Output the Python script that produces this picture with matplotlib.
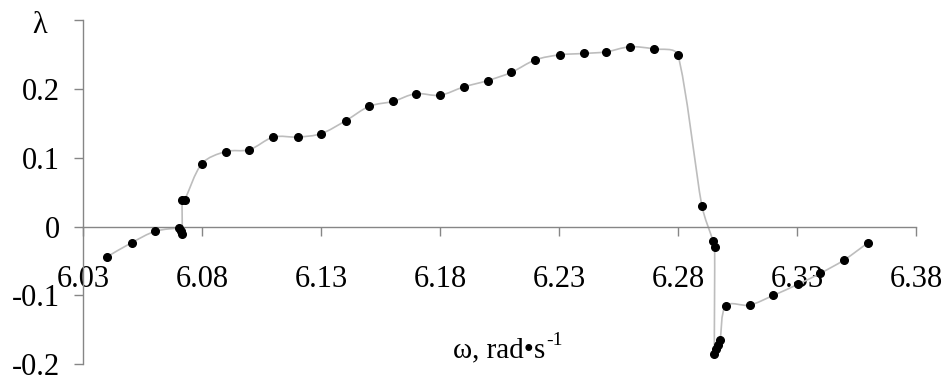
import numpy as np
import matplotlib
matplotlib.use("Agg")
import matplotlib.pyplot as plt
from matplotlib.path import Path
from matplotlib.patches import PathPatch

# frequency (rad/s) and exponent lambda, in measurement order
omega = [6.0402, 6.0505, 6.0604, 6.0705, 6.0712, 6.0717, 6.0717, 6.0728,
         6.0799, 6.0900, 6.0999, 6.1100, 6.1202, 6.1301, 6.1404, 6.1503,
         6.1604, 6.1698, 6.1799, 6.1900, 6.2000, 6.2100, 6.2200, 6.2303,
         6.2404, 6.2497, 6.2597, 6.2698, 6.2799, 6.2900, 6.2947, 6.2954,
         6.2953, 6.2960, 6.2967, 6.2977, 6.3000, 6.3101, 6.3200, 6.3303,
         6.3397, 6.3498, 6.3599]
lam = [-0.0437, -0.0233, -0.0068, -0.0024, -0.0065, -0.0105, 0.0379, 0.0393,
       0.0912, 0.1090, 0.1116, 0.1300, 0.1300, 0.1350, 0.1538, 0.1747,
       0.1820, 0.1930, 0.1907, 0.2028, 0.2120, 0.2240, 0.2420, 0.2494,
       0.2514, 0.2537, 0.2610, 0.2580, 0.2494, 0.0306, -0.0204, -0.0300,
       -0.1853, -0.1780, -0.1715, -0.1650, -0.1155, -0.1140, -0.1000, -0.0840,
       -0.0680, -0.0485, -0.0233]

x_ticks = [6.03, 6.08, 6.13, 6.18, 6.23, 6.28, 6.33, 6.38]
x_labels = ["6.03", "6.08", "6.13", "6.18", "6.23", "6.28", "6.33", "6.38"]
y_ticks = [-0.2, -0.1, 0.0, 0.1, 0.2, 0.3]
y_labels = ["-0.2", "-0.1", "0", "0.1", "0.2", ""]

AXIS_GREY = "#868686"
LINE_GREY = "#bdbdbd"
FONT = "Liberation Serif"


def smooth_path(xs, ys, sx, sy):
    """Cubic Bezier path through the points.

    Tangents are Catmull-Rom, with each control arm capped at a third of
    its segment (measured in the scaled sx/sy space) to keep overshoot small.
    """
    scale = np.array([sx, sy])
    p = np.column_stack([xs, ys]) * scale
    n = len(p)
    verts = [p[0]]
    codes = [Path.MOVETO]

    def arm(vec, seg_len):
        length = np.hypot(*vec)
        cap = seg_len / 3.0
        if length > cap and length > 0:
            vec = vec * cap / length
        return vec

    for i in range(n - 1):
        p0 = p[i - 1] if i > 0 else p[i]
        p3 = p[i + 2] if i + 2 < n else p[i + 1]
        seg = np.hypot(*(p[i + 1] - p[i]))
        c1 = p[i] + arm((p[i + 1] - p0) / 6.0, seg)
        c2 = p[i + 1] - arm((p3 - p[i]) / 6.0, seg)
        verts += [c1, c2, p[i + 1]]
        codes += [Path.CURVE4] * 3
    return Path(np.array(verts) / scale, codes)


plt.rcParams["font.family"] = FONT

fig = plt.figure(figsize=(9.46, 3.81), dpi=100)
ax = fig.add_axes([83 / 946, 1 - 364.3 / 381, (916 - 83) / 946, (364.3 - 20) / 381])

ax.set_xlim(6.03, 6.38)
ax.set_ylim(-0.2, 0.3)

# pixels per data unit, so the smoothing works in screen proportions
px_x = (916 - 83) / (6.38 - 6.03)
px_y = (364.3 - 20) / (0.3 + 0.2)
ax.add_patch(PathPatch(smooth_path(omega, lam, px_x, px_y), facecolor="none",
                       edgecolor=LINE_GREY, lw=1.2, zorder=2))
ax.plot(omega, lam, ls="none", marker="o", ms=5.5, color="black", zorder=3)

for side in ("top", "right"):
    ax.spines[side].set_visible(False)
ax.spines["bottom"].set_position(("data", 0))
for side in ("left", "bottom"):
    ax.spines[side].set_color(AXIS_GREY)
    ax.spines[side].set_linewidth(1.0)

ax.set_xticks(x_ticks)
ax.set_xticklabels(x_labels)
ax.set_yticks(y_ticks)
ax.set_yticklabels(y_labels)
ax.tick_params(axis="x", direction="out", length=6.5, width=1.0,
               color=AXIS_GREY, pad=21, labelsize=22)
ax.tick_params(axis="y", direction="out", length=6.5, width=1.0,
               color=AXIS_GREY, pad=10, labelsize=22)

# axis titles
fig.text(32 / 946, 1 - 33 / 381, "λ", fontsize=22, ha="left", va="baseline")
xlab = fig.text(453 / 946, 1 - 357 / 381, "ω, rad•s", fontsize=21,
                ha="left", va="baseline")
fig.canvas.draw()
bb = xlab.get_window_extent()
fig.text(bb.x1 / 946 + 0.001, (bb.y1 + 5) / 381, "-1", fontsize=14,
         ha="left", va="top")

fig.savefig("out.png", dpi=100)
